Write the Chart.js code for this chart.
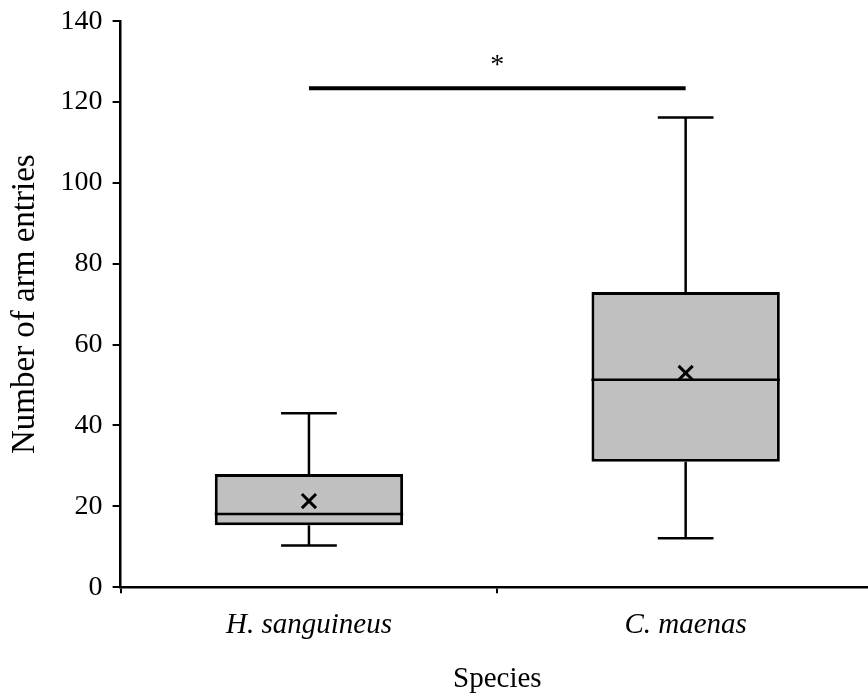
<!DOCTYPE html>
<html><head><meta charset="utf-8">
<script src="https://cdn.jsdelivr.net/npm/chart.js@4/dist/chart.umd.min.js"></script>
<style>html,body{margin:0;padding:0;background:#fff;overflow:hidden;width:868px;height:693px}
#wrap{width:887px;height:693px}</style></head>
<body><div id="wrap"><canvas id="c" width="887" height="693"></canvas></div>
<script>
const categories = ['H. sanguineus', 'C. maenas'];
const whiskerLow = [10.3, 12.1];
const q1 = [15.3, 31.0];
const median = [18.1, 51.3];
const q3 = [28.0, 73.0];
const whiskerHigh = [43.0, 116.2];
const means = [21.3, 53.0];
const yTicks = [0, 20, 40, 60, 80, 100, 120, 140];
const sigBar = [123.4];
const sigLabel = ['*'];

const FONT = 'Liberation Serif';

const boxExtras = {
  id: 'boxExtras',
  beforeDatasetsDraw(chart) {
    const { ctx, scales: { x, y } } = chart;
    const meta = chart.getDatasetMeta(0);
    ctx.save();
    ctx.strokeStyle = '#000';
    ctx.lineWidth = 2.5;
    ctx.lineCap = 'butt';
    categories.forEach((c, i) => {
      const cx = x.getPixelForValue(i);
      const half = meta.data[i].width * 0.148;
      const yl = y.getPixelForValue(whiskerLow[i]);
      const yh = y.getPixelForValue(whiskerHigh[i]);
      const y1 = y.getPixelForValue(q1[i]);
      const y3 = y.getPixelForValue(q3[i]);
      ctx.beginPath();
      ctx.moveTo(cx, yl); ctx.lineTo(cx, y1);
      ctx.moveTo(cx, y3); ctx.lineTo(cx, yh);
      ctx.moveTo(cx - half, yl); ctx.lineTo(cx + half, yl);
      ctx.moveTo(cx - half, yh); ctx.lineTo(cx + half, yh);
      ctx.stroke();
    });
    ctx.restore();
  },
  afterDatasetDraw(chart, args) {
    if (args.index !== 0) return;
    const { ctx, scales: { x, y } } = chart;
    const meta = chart.getDatasetMeta(0);
    ctx.save();
    ctx.strokeStyle = '#000';
    ctx.lineWidth = 2.5;
    categories.forEach((c, i) => {
      const cx = x.getPixelForValue(i);
      const hw = meta.data[i].width / 2;
      const ym = y.getPixelForValue(median[i]);
      ctx.beginPath();
      ctx.moveTo(cx - hw, ym); ctx.lineTo(cx + hw, ym);
      ctx.stroke();
    });
    // significance bar
    const xa = x.getPixelForValue(0);
    const xb = x.getPixelForValue(1);
    const ys = y.getPixelForValue(sigBar[0]);
    ctx.lineWidth = 4;
    ctx.beginPath();
    ctx.moveTo(xa, ys); ctx.lineTo(xb, ys);
    ctx.stroke();
    ctx.fillStyle = '#000';
    ctx.font = '28px "' + FONT + '"';
    ctx.textAlign = 'center';
    ctx.textBaseline = 'alphabetic';
    ctx.fillText(sigLabel[0], (xa + xb) / 2, ys - 15);
    ctx.restore();
  }
};

new Chart(document.getElementById('c'), {
  type: 'bar',
  data: {
    labels: categories,
    datasets: [
      {
        type: 'bar',
        data: categories.map((c, i) => [q1[i], q3[i]]),
        backgroundColor: '#c0c0c0',
        borderColor: '#000',
        borderWidth: 3,
        borderSkipped: false,
        barPercentage: 0.5,
        categoryPercentage: 1.0,
        order: 2
      },
      {
        type: 'line',
        data: means,
        showLine: false,
        pointStyle: 'crossRot',
        pointRadius: 10,
        pointBorderWidth: 3,
        borderColor: '#000',
        backgroundColor: '#000',
        order: 1
      }
    ]
  },
  options: {
    responsive: false,
    animation: false,
    layout: { padding: { top: 0, right: 0, bottom: -1, left: 6 } },
    plugins: { legend: { display: false }, tooltip: { enabled: false } },
    scales: {
      x: {
        type: 'category',
        offset: true,
        grid: { display: true, drawOnChartArea: false, drawTicks: true, tickLength: 6, color: '#000', lineWidth: 2, offset: true },
        border: { display: true, color: '#000', width: 2.5 },
        ticks: { color: '#000', padding: 15, font: { family: FONT, size: 29, style: 'italic' } },
        title: { display: true, text: 'Species', color: '#000', padding: { top: 7, bottom: 0 }, font: { family: FONT, size: 29, lineHeight: 1 } }
      },
      y: {
        min: 0, max: 140,
        afterBuildTicks(axis) { axis.ticks = yTicks.map(v => ({ value: v })); },
        grid: { display: true, drawOnChartArea: false, drawTicks: true, tickLength: 8, color: '#000', lineWidth: 2 },
        border: { display: true, color: '#000', width: 2.5 },
        ticks: { color: '#000', padding: 10, font: { family: FONT, size: 28, lineHeight: 0.8 } },
        title: { display: true, text: 'Number of arm entries', color: '#000', padding: { top: 0, bottom: 5 }, font: { family: FONT, size: 33 } }
      }
    }
  },
  plugins: [boxExtras]
});
</script>
</body></html>
